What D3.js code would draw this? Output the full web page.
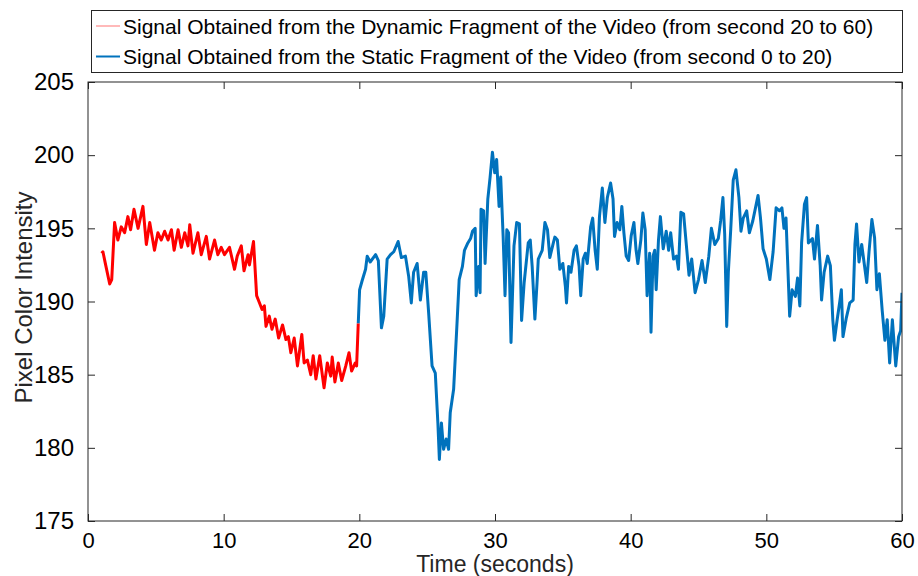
<!DOCTYPE html>
<html>
<head>
<meta charset="utf-8">
<script src="https://cdn.jsdelivr.net/npm/d3@7"></script>
<style>
  html, body { margin: 0; padding: 0; background: #fff; }
  svg text { font-family: "Liberation Sans", Arial, Helvetica, sans-serif; }
</style>
</head>
<body>
<div id="chart"></div>
<script>
// Pixel intensity signal
const xTicks = [0, 10, 20, 30, 40, 50, 60]
const yTicks = [175, 180, 185, 190, 195, 200, 205]

const legendLabels = [
  "Signal Obtained from the Dynamic Fragment of the Video (from second 20 to 60)",
  "Signal Obtained from the Static Fragment of the Video (from second 0 to 20)"
]

// red part (0 - 20 s)
const redTime = [1.0, 1.1, 1.3, 1.6, 1.75, 1.96, 2.2, 2.45, 2.7, 2.94, 3.14, 3.39, 3.69, 4.05, 4.3, 4.55, 4.9, 5.15, 5.4, 5.65,
  5.9, 6.15, 6.35, 6.64, 6.88, 7.13, 7.37, 7.5, 7.74, 8.1, 8.35, 8.72, 8.96, 9.33, 9.57, 9.82, 10.06, 10.43, 10.8, 11.0,
  11.3, 11.5, 11.8, 11.9, 12.2, 12.43, 12.6, 12.83, 13.0, 13.12, 13.36, 13.56, 13.8, 14.05, 14.34, 14.59, 14.77, 14.95, 15.2, 15.44,
  15.76, 15.93, 16.17, 16.42, 16.6, 16.8, 17.08, 17.4, 17.64, 17.89, 18.0, 18.2, 18.45, 18.7, 19.0, 19.24, 19.43, 19.7, 19.8, 19.92]
const redValue = [193.3, 193.4, 192.5, 191.2, 191.5, 195.4, 194.2, 195.1, 194.7, 195.8, 194.9, 196.3, 195.0, 196.5, 193.9, 195.4, 193.5, 194.7, 194.2, 194.8,
  194.2, 194.9, 193.5, 194.9, 193.7, 194.7, 193.8, 195.25, 193.3, 194.7, 193.2, 194.45, 192.9, 194.2, 193.2, 193.7, 193.2, 193.7, 192.2, 193.1,
  193.8, 192.1, 193.2, 192.5, 194.1, 190.4, 190.0, 189.45, 189.7, 188.3, 189.0, 188.1, 188.8, 187.5, 188.4, 187.4, 187.6, 186.5, 187.5, 185.6,
  187.75, 185.8, 186.0, 185.0, 186.3, 184.7, 186.3, 184.1, 185.8, 184.9, 186.2, 184.5, 185.8, 184.6, 185.6, 186.5, 185.25, 185.8, 185.6, 188.5]

// blue part (20 - 60 s)
const blueTime = [19.92, 20.02, 20.2, 20.46, 20.58, 20.8, 21.2, 21.4, 21.63, 21.8, 22.05, 22.3, 22.54, 22.86, 23.1, 23.4, 23.64, 23.83, 24.0, 24.26,
  24.5, 24.74, 24.9, 25.11, 25.36, 25.6, 25.79, 25.9, 26.05, 26.21, 26.4, 26.58, 26.7, 26.95, 27.2, 27.36, 27.6, 27.75, 28.0, 28.2,
  28.34, 28.54, 28.61, 28.8, 28.9, 28.97, 29.16, 29.27, 29.47, 29.64, 29.81, 29.98, 30.12, 30.3, 30.42, 30.6, 30.74, 30.87, 31.0, 31.18,
  31.4, 31.6, 31.8, 31.96, 32.15, 32.45, 32.6, 32.74, 32.94, 33.1, 33.19, 33.48, 33.68, 33.87, 34.04, 34.3, 34.41, 34.6, 34.78, 35.0,
  35.19, 35.27, 35.43, 35.6, 35.83, 36.0, 36.2, 36.32, 36.5, 36.66, 36.8, 37.05, 37.2, 37.38, 37.54, 37.7, 37.91, 38.1, 38.28, 38.52,
  38.7, 38.81, 39.0, 39.2, 39.35, 39.5, 39.67, 39.85, 40.04, 40.24, 40.4, 40.53, 40.75, 40.9, 41.07, 41.21, 41.4, 41.5, 41.65, 41.77,
  41.88, 42.05, 42.19, 42.4, 42.62, 42.8, 42.95, 43.16, 43.38, 43.52, 43.7, 43.9, 44.13, 44.3, 44.5, 44.75, 45.0, 45.26, 45.5, 45.76,
  45.95, 46.2, 46.46, 46.63, 46.8, 46.93, 47.08, 47.2, 47.38, 47.56, 47.76, 47.98, 48.13, 48.3, 48.55, 48.75, 49.0, 49.2, 49.39, 49.57,
  49.76, 50.0, 50.26, 50.5, 50.72, 50.97, 51.15, 51.3, 51.45, 51.72, 51.9, 52.14, 52.3, 52.47, 52.6, 52.81, 52.97, 53.1, 53.4, 53.55,
  53.77, 53.97, 54.07, 54.26, 54.52, 54.72, 54.9, 55.02, 55.22, 55.4, 55.53, 55.65, 55.9, 56.15, 56.4, 56.53, 56.65, 56.83, 57.03, 57.2,
  57.4, 57.57, 57.78, 57.98, 58.15, 58.33, 58.54, 58.74, 58.91, 59.09, 59.29, 59.54, 59.75, 59.9, 60.0]
const blueValue = [188.5, 190.8, 191.4, 192.2, 193.1, 192.7, 193.2, 192.8, 188.2, 189.0, 192.9, 193.2, 193.4, 194.1, 193.0, 193.1, 191.7, 189.9, 192.0, 192.6,
  190.1, 192.0, 192.0, 189.2, 185.6, 185.1, 181.7, 179.2, 181.7, 179.9, 180.6, 179.9, 182.4, 184.0, 188.5, 191.5, 192.4, 193.5, 194.0, 194.3,
  194.8, 195.0, 190.4, 192.4, 190.6, 196.3, 196.2, 192.6, 197.0, 198.5, 200.2, 198.8, 199.7, 196.5, 198.5, 194.45, 190.4, 194.9, 194.7, 187.2,
  193.8, 195.4, 195.3, 188.7, 191.3, 194.0, 194.2, 192.4, 188.8, 191.3, 192.9, 193.5, 195.4, 194.9, 193.0, 194.0, 194.4, 194.2, 192.2, 192.6,
  191.0, 189.9, 192.4, 192.0, 193.5, 193.8, 192.4, 190.4, 192.9, 193.3, 192.6, 195.1, 195.7, 193.5, 192.2, 195.8, 197.75, 195.4, 197.1, 198.1,
  197.0, 194.45, 195.4, 194.9, 196.5, 194.7, 193.1, 192.8, 194.5, 195.4, 193.5, 192.6, 194.2, 196.05, 194.9, 190.4, 193.3, 187.9, 193.1, 193.5,
  190.8, 194.2, 195.8, 193.6, 194.8, 193.5, 194.7, 192.9, 193.1, 192.2, 196.1, 196.0, 193.6, 191.8, 192.9, 190.6, 191.5, 192.8, 191.3, 193.1,
  195.0, 193.9, 194.3, 195.5, 197.1, 194.6, 188.3, 192.0, 195.0, 198.3, 199.0, 197.1, 194.8, 195.7, 196.2, 194.7, 195.5, 196.4, 197.25, 195.7,
  193.6, 192.9, 191.5, 193.4, 196.4, 196.2, 196.4, 195.0, 195.7, 189.0, 190.8, 190.35, 191.6, 189.7, 194.0, 196.65, 197.1, 194.0, 194.3, 192.9,
  195.2, 192.45, 190.1, 192.0, 193.1, 192.45, 188.75, 187.35, 188.75, 189.9, 190.8, 187.6, 188.9, 189.9, 190.1, 193.9, 195.3, 192.7, 193.9, 192.7,
  191.3, 193.4, 195.6, 194.35, 190.8, 191.9, 189.4, 187.35, 188.75, 185.8, 188.75, 185.6, 187.6, 188.0, 190.6]

const W = 918, H = 576
const margin = { top: 82, right: 16, bottom: 55, left: 88 }
const width = W - margin.left - margin.right
const height = H - margin.top - margin.bottom
const axisColor = "#262626"

const svg = d3.select("#chart")
  .append("svg")
  .attr("width", W)
  .attr("height", H)

const x = d3.scaleLinear().domain([0, 60]).range([0, width])
const y = d3.scaleLinear().domain([175, 205]).range([height, 0])

const g = svg.append("g")
  .attr("transform", `translate(${margin.left},${margin.top})`)

// clip so the line stays inside the box
g.append("clipPath").attr("id", "plot-clip")
  .append("rect").attr("width", width).attr("height", height)

const line = d3.line()
  .x(d => x(d[0]))
  .y(d => y(d[1]))

const redData = redTime.map((t, i) => [t, redValue[i]])
const blueData = blueTime.map((t, i) => [t, blueValue[i]])

g.append("path")
  .datum(blueData)
  .attr("clip-path", "url(#plot-clip)")
  .attr("fill", "none")
  .attr("stroke", "#0072bd")
  .attr("stroke-width", 3)
  .attr("stroke-linejoin", "round")
  .attr("d", line)

g.append("path")
  .datum(redData)
  .attr("clip-path", "url(#plot-clip)")
  .attr("fill", "none")
  .attr("stroke", "#ff0000")
  .attr("stroke-width", 3)
  .attr("stroke-linejoin", "round")
  .attr("d", line)

// Axes with inward ticks on all four sides (box on)
function styleAxis(sel) {
  sel.select(".domain").remove()
  sel.selectAll("line").attr("stroke", axisColor).attr("stroke-width", 1)
}

g.append("g")
  .attr("transform", `translate(0,${height})`)
  .call(d3.axisBottom(x).tickValues(xTicks).tickSizeInner(-7).tickSizeOuter(0).tickPadding(11))
  .call(styleAxis)
  .selectAll("text")
  .attr("fill", "#000")
  .style("font-size", "22px")

g.append("g")
  .call(d3.axisTop(x).tickValues(xTicks).tickSizeInner(-7).tickSizeOuter(0).tickFormat(""))
  .call(styleAxis)

g.append("g")
  .call(d3.axisLeft(y).tickValues(yTicks).tickSizeInner(-7).tickSizeOuter(0).tickPadding(14))
  .call(styleAxis)
  .selectAll("text")
  .attr("fill", "#000")
  .style("font-size", "24px")

g.append("g")
  .attr("transform", `translate(${width},0)`)
  .call(d3.axisRight(y).tickValues(yTicks).tickSizeInner(-7).tickSizeOuter(0).tickFormat(""))
  .call(styleAxis)

g.append("rect")
  .attr("width", width)
  .attr("height", height)
  .attr("fill", "none")
  .attr("stroke", axisColor)
  .attr("stroke-width", 1)

// Axis labels
svg.append("text")
  .attr("x", margin.left + width / 2)
  .attr("y", 572)
  .attr("text-anchor", "middle")
  .attr("fill", axisColor)
  .style("font-size", "23px")
  .text("Time (seconds)")

svg.append("text")
  .attr("transform", `translate(32,${margin.top + height / 2 - 4}) rotate(-90)`)
  .attr("text-anchor", "middle")
  .attr("fill", axisColor)
  .style("font-size", "24px")
  .text("Pixel Color Intensity")

// Legend
const legend = svg.append("g")
legend.append("rect")
  .attr("x", 91.5)
  .attr("y", 10.5)
  .attr("width", 811)
  .attr("height", 62)
  .attr("fill", "#fff")
  .attr("stroke", axisColor)
  .attr("stroke-width", 1)

const legendColors = ["#ff0000", "#0072bd"]
const legendWidths = [1, 2]
legendLabels.forEach((label, i) => {
  const ly = 26 + i * 30.5
  legend.append("line")
    .attr("x1", 96).attr("x2", 120)
    .attr("y1", ly).attr("y2", ly)
    .attr("stroke", legendColors[i])
    .attr("stroke-opacity", i === 0 ? 0.55 : 1)
    .attr("stroke-width", legendWidths[i])
  legend.append("text")
    .attr("x", 123)
    .attr("y", ly + 7.5)
    .attr("fill", "#000")
    .style("font-size", "21px")
    .text(label)
})
</script>
</body>
</html>
